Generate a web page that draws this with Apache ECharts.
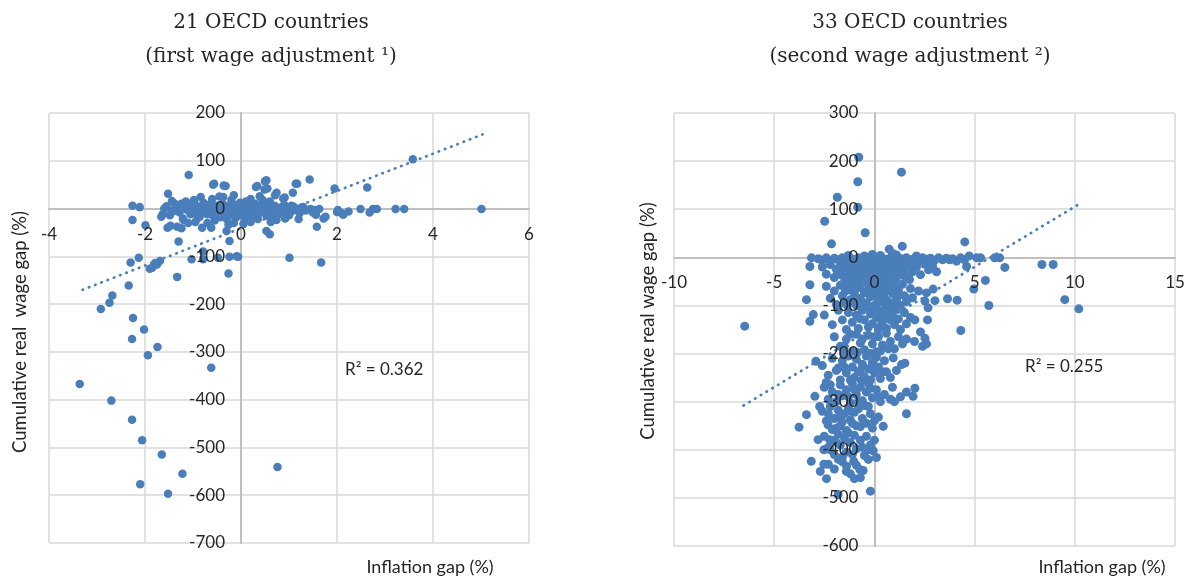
<!DOCTYPE html>
<html>
<head>
<meta charset="utf-8">
<script src="https://cdn.jsdelivr.net/npm/echarts@6/dist/echarts.min.js"></script>
<style>html,body{margin:0;padding:0;background:#fff;}#c{width:1189px;height:581px;}</style>
</head>
<body>
<div id="c"></div>
<script>
// ---- Data ----
const leftTitle = ['21 OECD countries', '(first wage adjustment \u00B9)'];
const rightTitle = ['33 OECD countries', '(second wage adjustment \u00B2)'];
const yAxisNameLeft = 'Cumulative real  wage gap (%)';
const yAxisNameRight = 'Cumulative real wage gap (%)';
const xAxisName = 'Inflation gap (%)';
const r2Left = 'R\u00B2 = 0.362';
const r2Right = 'R\u00B2 = 0.255';

// Panel 1: 21 OECD countries  [inflation gap, cumulative real wage gap]
const leftPoints = [
  [-1.09,70],[-2.26,6],[-2.11,3],[-2.26,-24],[-1.99,-35],[-1.52,31],[-1.44,16],[-1.63,-12],[-1.66,-17],[-1.47,-36],
  [-1.33,-38],[-1.21,-21],[-1.30,-69],[-2.13,-103],[-2.30,-113],[-1.85,-124],[-1.69,-110],[-1.75,-117],[-1.33,-143],[-2.34,-161],
  [-2.68,-182],[-2.74,-197],[-2.92,-210],[-2.25,-229],[-2.02,-253],[-2.27,-273],[-0.56,52],[-0.36,48],[-0.32,47],[-0.84,24],
  [-0.81,-40],[-0.62,-40],[-1.03,-106],[-0.79,-106],[-0.48,-103],[-0.24,-101],[-0.06,-101],[-0.26,-136],[-0.24,-68],[1.01,-103],
  [0.53,-47],[0.60,-54],[0.34,47],[0.53,59],[0.55,42],[0.74,33],[0.91,23],[0.39,26],[1.14,52],
  [-1.74,-290],[-1.94,-307],[-0.62,-333],[-3.36,-367],[-2.70,-402],[-2.27,-442],[-2.06,-485],[-1.65,-515],[-1.22,-555],[-2.10,-577],
  [-1.52,-597],[0.76,-541],
  [1.43,61],[1.17,52],[1.08,33],[1.05,6],[1.28,-3],[1.26,2],[1.63,-1],[1.56,-13],[1.76,-17],[1.58,-38],
  [1.95,42],[2.02,-3],[2.13,-13],[2.24,-6],[2.49,-1],[2.63,44],[2.68,-8],[2.75,-1],[2.83,-1],[3.22,-1],
  [3.40,-1],[3.58,103],[5.01,-1],[1.67,-113],
  [-0.58,50],[0.31,45],[0.50,57],[0.49,40],[0.71,28],[0.88,21],[-1.24,10],[-1.04,7],[-0.72,7],[-0.37,24],
  [-0.61,-3],[-0.47,-10],[-0.86,-17],[-1.20,-24],[-1.48,-14],[-1.53,-40],[-1.24,-41],[-0.26,-34],[-0.30,-47],[0.74,-24],
  [0.92,-21],[1.72,-21],[1.54,-3],[2.0,-7],[2.1,-10],[-0.79,-90],[-0.09,-100],[-1.90,-126],[-1.79,-114],
  [-1.40,-5],[-1.35,2],[-1.28,-8],[-1.18,5],[-1.12,-3],[-1.05,-12],[-1.00,2],[-0.98,-6],[-0.95,8],[-0.92,-2],
  [-0.90,-20],[-0.85,3],[-0.82,-8],[-0.78,12],[-0.75,-3],[-0.70,-12],[-0.68,4],[-0.65,-6],[-0.62,10],[-0.58,-15],
  [-0.55,0],[-0.52,-8],[-0.50,6],[-0.47,-2],[-0.44,-18],[-0.42,3],[-0.40,-6],[-0.38,10],[-0.35,-12],[-0.33,0],
  [-0.30,-22],[-0.28,5],[-0.25,-5],[-0.22,-14],[-0.20,2],[-0.18,-8],[-0.15,8],[-0.12,-3],[-0.10,-18],[-0.08,4],
  [-0.05,-10],[-0.02,12],[0.00,-2],[0.03,-15],[0.05,5],[0.08,-6],[0.10,-25],[0.12,2],[0.15,-10],[0.18,8],
  [0.20,-4],[0.23,-18],[0.25,0],[0.28,-8],[0.30,10],[0.33,-3],[0.36,-12],[0.40,3],[0.43,-6],[0.46,12],
  [0.50,-2],[0.53,-15],[0.56,4],[0.60,-8],[0.63,0],[0.67,-20],[0.70,6],[0.74,-4],[0.78,-12],[0.82,2],
  [0.86,-6],[0.90,8],[0.95,-2],[1.00,-14],[1.05,-6],[1.10,4],[1.16,-2],[1.22,-10],[1.30,3],[1.35,-4],
  [1.45,-1],[1.50,-8],
  [-1.15,15],[-0.98,18],[-0.60,20],[-0.20,18],[0.10,15],[0.20,20],[0.45,18],[0.60,15],[-0.45,25],[-0.15,28],
  [-0.95,-28],[-0.55,-25],[-0.15,-30],[0.20,-28],[0.35,-22],[0.62,-28],[1.20,-22],[-1.10,-30],[-0.70,-30],[0.05,-32],
  [-1.60,0],[-1.55,5],[-1.45,-5],[-1.38,10]
];
const leftTrend = [[-3.3,-170],[5.03,155]];

// Panel 2: 33 OECD countries
const rightPoints = [
  [-0.78,208],[1.35,177],[-0.83,157],[-1.85,125],[-0.83,104],[-2.48,75],[-0.46,51],[-2.14,28],[0.74,17],[1.39,23],
  [-6.47,-143],[4.51,32],[4.73,3],[5.1,-1],[5.3,-1],[6.0,-1],[6.25,-1],[6.51,-21],[8.36,-15],[8.92,-15],
  [9.5,-88],[10.2,-107],[5.54,-48],[4.96,-66],[5.71,-100],[4.31,-152],[3.65,-86],[4.13,-89],[2.93,-66],[2.6,-74],
  [2.52,-91],[3.02,-90],[2.68,-105],[2.65,-130],[2.02,-130],[4.1,-8],[3.76,-5],[4.6,-19],[2.52,-168],
  [-3.14,-1],[-3.22,-19],[-3.22,-57],[-3.39,-88],[-3.05,-119],[-3.22,-133],[-2.92,-216],[-2.97,-289],[-3.39,-327],[-3.76,-353],
  [-2.81,-379],[-2.52,-400],[-3.15,-424],[-2.52,-430],[-2.39,-460],[-1.81,-493],[-1.39,-434],[-1.03,-424],[-0.56,-443],[-0.2,-486],
  [0.1,-416],[-0.06,-402],[0.44,-351],[1.6,-325],[1.93,-289],[2.02,-272],[0.94,-209],[1.35,-223],[1.52,-220],[2.3,-155],
  [2.6,-180],[2.4,-185],[2.0,-175],[1.6,-170],[-2.73,-310],[-2.31,-348],[-2.23,-379],[-0.73,-441],[-0.31,-400],
  [-2.8,-3],[-2.6,-6],[-2.4,-1],[-2.2,-8],[-2.0,-2],[-1.8,-5],[-1.6,-1],[-1.4,-7],[-1.2,-2],[-1.0,-4],
  [-0.8,-1],[-0.6,-6],[-0.4,-2],[-0.2,-8],[0.0,-1],[0.2,-5],[0.4,-2],[0.6,-7],[0.8,-1],[1.0,-4],
  [1.2,-2],[1.4,-6],[1.6,-1],[1.8,-5],[2.0,-2],[2.2,-7],[2.4,-1],[2.6,-4],[2.8,-2],[3.0,-6],
  [3.2,-1],[3.4,-5],[3.6,-2],[3.9,-3],[4.3,-1],[4.5,-5],[2.1,3],[1.1,5],[0.3,4],[-0.5,3],
  [-1.3,4],[0.9,8],[-0.1,6],
  [-2.6,-20],[-2.4,-35],[-2.2,-15],[-2.0,-42],[-1.9,-25],[-1.7,-12],[-1.6,-38],[-1.5,-22],[-1.4,-48],[-1.3,-15],
  [-1.2,-30],[-1.1,-44],[-1.0,-18],[-0.9,-35],[-0.8,-12],[-0.7,-26],[-0.6,-45],[-0.5,-16],[-0.4,-33],[-0.3,-22],
  [-0.2,-48],[-0.1,-14],[0.0,-28],[0.1,-40],[0.2,-18],[0.3,-32],[0.4,-12],[0.5,-25],[0.6,-45],[0.7,-20],
  [0.8,-36],[0.9,-14],[1.0,-28],[1.1,-42],[1.2,-18],[1.3,-32],[1.4,-12],[1.5,-24],[1.6,-40],[1.8,-16],
  [1.9,-30],[2.1,-20],[2.3,-36],[2.5,-14],[2.7,-26],[2.9,-18],[3.1,-30],[0.35,-48],[-0.75,-40],[1.75,-46],
  [-1.75,-32],
  [-2.4,-60],[-2.2,-85],[-2.0,-70],[-1.9,-98],[-1.7,-58],[-1.6,-80],[-1.5,-95],[-1.3,-65],[-1.2,-88],[-1.1,-55],
  [-1.0,-75],[-0.9,-100],[-0.8,-62],[-0.7,-85],[-0.6,-52],[-0.5,-72],[-0.4,-95],[-0.3,-58],[-0.2,-82],[-0.1,-68],
  [0.0,-100],[0.1,-55],[0.2,-78],[0.3,-92],[0.4,-62],[0.5,-85],[0.6,-70],[0.7,-55],[0.8,-95],[0.9,-75],
  [1.0,-60],[1.1,-88],[1.2,-68],[1.3,-100],[1.4,-56],[1.5,-80],[1.6,-92],[1.8,-65],[1.9,-84],[2.2,-70],
  [-0.05,-80],[0.55,-100],[-1.45,-70],[0.25,-62],
  [-2.5,-120],[-2.1,-140],[-1.8,-110],[-1.6,-130],[-1.4,-150],[-1.3,-115],[-1.1,-135],[-0.9,-120],[-0.8,-148],[-0.6,-110],
  [-0.5,-130],[-0.3,-145],[-0.2,-118],[-0.1,-138],[0.0,-108],[0.1,-125],[0.2,-150],[0.3,-112],[0.4,-135],[0.5,-120],
  [0.6,-148],[0.7,-110],[0.8,-130],[0.9,-118],[1.0,-140],[1.1,-108],[1.2,-128],[1.3,-150],[1.5,-115],[1.6,-138],
  [1.8,-125],[-0.7,-128],[0.35,-140],
  [-2.0,-165],[-1.7,-185],[-1.4,-170],[-1.1,-195],[-0.9,-160],[-0.7,-178],[-0.5,-192],[-0.3,-162],[-0.1,-180],[0.1,-196],
  [0.2,-165],[0.4,-182],[0.6,-158],[0.8,-175],[1.0,-190],[1.2,-165],[1.4,-180],[-0.85,-198],
  [-2.6,-225],[-2.3,-245],[-2.1,-210],[-1.9,-235],[-1.7,-255],[-1.6,-215],[-1.4,-240],[-1.3,-205],[-1.1,-228],[-1.0,-250],
  [-0.9,-212],[-0.8,-238],[-0.6,-222],[-0.5,-248],[-0.4,-205],[-0.3,-232],[-0.2,-255],[-0.1,-218],[0.0,-240],[0.1,-208],
  [0.2,-228],[0.3,-252],[0.5,-215],[0.6,-238],[0.8,-250],[1.1,-235],[-1.5,-200],[-0.65,-256],
  [-2.5,-270],[-2.3,-295],[-2.1,-280],[-1.9,-300],[-1.7,-265],[-1.6,-288],[-1.4,-275],[-1.2,-302],[-1.1,-262],[-0.9,-285],
  [-0.7,-270],[-0.6,-298],[-0.4,-280],[-0.3,-262],[-0.1,-292],[0.1,-275],[0.3,-300],[0.5,-285],[0.8,-295],[1.0,-300],
  [1.3,-290],[1.6,-280],[0.9,-270],
  [-2.6,-320],[-2.4,-340],[-2.2,-310],[-2.0,-335],[-1.9,-355],[-1.8,-318],[-1.6,-342],[-1.5,-325],[-1.4,-360],[-1.3,-312],
  [-1.2,-338],[-1.0,-322],[-0.9,-350],[-0.8,-315],[-0.6,-335],[-0.5,-308],[-0.4,-345],[-0.2,-325],[-0.1,-355],[0.2,-332],
  [-1.7,-330],[-1.1,-345],
  [-2.5,-372],[-2.3,-395],[-2.1,-380],[-2.0,-410],[-1.8,-368],[-1.7,-390],[-1.5,-375],[-1.4,-405],[-1.2,-385],[-1.0,-370],
  [-0.9,-398],[-0.7,-380],[-0.5,-412],[-0.4,-372],[-0.2,-390],[0.0,-380],[-1.6,-415],
  [-2.0,-440],[-1.6,-425],[-1.2,-450],[-0.9,-432],[-0.7,-458],[-2.7,-445],
  [-1.45,-8],[-1.25,-12],[-1.05,-6],[-0.85,-10],[-0.65,-3],[-0.45,-12],[-0.25,-5],[-0.05,-10],[0.15,-3],[0.35,-10],
  [0.55,-4],[0.75,-12],[0.95,-6],[1.15,-10],[1.35,-3],
  [-1.55,-55],[-1.35,-40],[-1.15,-68],[-0.95,-50],[-0.75,-62],[-0.55,-35],[-0.35,-75],[-0.15,-40],[0.05,-62],[0.25,-35],
  [0.45,-78],[0.65,-40],[0.85,-60],[1.05,-45],[1.25,-78],[1.45,-38],
  [-1.05,-92],[-0.65,-98],[-0.25,-105],[0.15,-95],[0.65,-90],[1.05,-102],[-1.35,-100],
  [-1.2,-160],[-0.6,-170],[0.0,-165],[0.3,-195],[0.7,-190],[-1.5,-185],[-0.2,-200],
  [-1.8,-230],[-1.2,-255],[-0.7,-235],[-0.15,-228],[0.4,-238],[-2.4,-260],[-1.5,-228],
  [-2.2,-265],[-1.8,-285],[-1.3,-290],[-0.8,-300],[-0.2,-272],[0.2,-290],[-1.0,-275],
  [-2.3,-325],[-1.7,-350],[-1.2,-320],[-0.7,-352],[-0.3,-310],[0.0,-340],[-2.1,-358],
  [-2.2,-400],[-1.9,-385],[-1.3,-365],[-1.1,-410],[-0.6,-395],[-0.3,-420],[-1.8,-420],
  [-1.4,-445],[-1.0,-460],[-2.3,-430]
];
const rightTrend = [[-6.53,-308],[10.19,110]];

// Axis ranges [min, max, interval]
const leftX = [-4, 6, 2], leftY = [-700, 200, 100];
const rightX = [-10, 15, 5], rightY = [-600, 300, 100];

// ---- Layout / styling ----
const W = 1189, H = 581;
const grids = [
  { left: 49, right: 660, top: 113, bottom: 38 },
  { left: 674, right: 14, top: 113, bottom: 35 }
];
const BLUE = '#4a7ebb';
const GRID = '#d9d9d9';
const AXIS = '#bfbfbf';
const TXT = '#262626';
const SANS = 'Lato, "Open Sans", sans-serif';
const SERIF = '"DejaVu Serif", "Liberation Serif", serif';

// Excel-style axes crossing at zero: place each axis at the other axis' zero via offset.
// 'lines' axes carry axis line + gridlines (behind points); 'labels' axes carry tick labels (above points).
function xAx(gi, r, yr, labels) {
  const g = grids[gi];
  const h = H - g.top - g.bottom;
  const off = -((0 - yr[0]) / (yr[1] - yr[0])) * h;
  return {
    type: 'value', gridIndex: gi, min: r[0], max: r[1], interval: r[2], position: 'bottom', offset: off,
    z: labels ? 10 : 0,
    axisLine: { show: !labels, onZero: false, lineStyle: { color: AXIS, width: 2 } },
    axisTick: { show: false },
    axisLabel: { show: !!labels, fontFamily: SANS, fontSize: 17, color: TXT, margin: 17 },
    splitLine: { show: !labels, lineStyle: { color: GRID, width: 1.5 } }
  };
}
function yAx(gi, r, xr, labels) {
  const g = grids[gi];
  const w = W - g.left - g.right;
  const off = -((0 - xr[0]) / (xr[1] - xr[0])) * w;
  return {
    type: 'value', gridIndex: gi, min: r[0], max: r[1], interval: r[2], position: 'left', offset: off,
    z: labels ? 10 : 0,
    axisLine: { show: !labels, onZero: false, lineStyle: { color: AXIS, width: 2 } },
    axisTick: { show: false },
    axisLabel: { show: !!labels, fontFamily: SANS, fontSize: 17, color: TXT, margin: 16 },
    splitLine: { show: !labels, lineStyle: { color: GRID, width: 1.5 } }
  };
}
function txt(x, y, text, font, opts) {
  return Object.assign({
    type: 'text', x: x, y: y, z: 100,
    style: { text: text, font: font, fill: TXT, textAlign: 'center', textVerticalAlign: 'middle' }
  }, opts || {});
}

const chart = echarts.init(document.getElementById('c'), null, { renderer: 'canvas' });
chart.setOption({
  animation: false,
  backgroundColor: '#ffffff',
  grid: grids,
  xAxis: [xAx(0, leftX, leftY, false), xAx(1, rightX, rightY, false),
          xAx(0, leftX, leftY, true), xAx(1, rightX, rightY, true)],
  yAxis: [yAx(0, leftY, leftX, false), yAx(1, rightY, rightX, false),
          yAx(0, leftY, leftX, true), yAx(1, rightY, rightX, true)],
  series: [
    { type: 'scatter', xAxisIndex: 0, yAxisIndex: 0, data: leftPoints, symbolSize: 8.5,
      itemStyle: { color: BLUE, opacity: 1 } },
    { type: 'line', xAxisIndex: 0, yAxisIndex: 0, data: leftTrend, showSymbol: false, symbol: 'none',
      lineStyle: { color: BLUE, width: 2.7, type: [0.5, 6.2], cap: 'round' }, z: 5 },
    { type: 'scatter', xAxisIndex: 1, yAxisIndex: 1, data: rightPoints, symbolSize: 9,
      itemStyle: { color: BLUE, opacity: 1 } },
    { type: 'line', xAxisIndex: 1, yAxisIndex: 1, data: rightTrend, showSymbol: false, symbol: 'none',
      lineStyle: { color: BLUE, width: 2.7, type: [0.5, 6.2], cap: 'round' }, z: 5 }
  ],
  graphic: [
    txt(271, 23, leftTitle[0], '20px ' + SERIF),
    txt(271, 57, leftTitle[1], '20px ' + SERIF),
    txt(910, 23, rightTitle[0], '20px ' + SERIF),
    txt(910, 57, rightTitle[1], '20px ' + SERIF),
    txt(20, 332, yAxisNameLeft, '18.5px ' + SANS, { rotation: Math.PI / 2 }),
    txt(648, 321, yAxisNameRight, '18.5px ' + SANS, { rotation: Math.PI / 2 }),
    txt(430, 567, xAxisName, '18px ' + SANS),
    txt(1102, 567, xAxisName, '18px ' + SANS),
    { type: 'text', x: 345, y: 370, z: 100, style: { text: r2Left, font: '17px ' + SANS, fill: TXT, textAlign: 'left', textVerticalAlign: 'middle' } },
    { type: 'text', x: 1025, y: 367, z: 100, style: { text: r2Right, font: '17px ' + SANS, fill: TXT, textAlign: 'left', textVerticalAlign: 'middle' } }
  ]
});
</script>
</body>
</html>
